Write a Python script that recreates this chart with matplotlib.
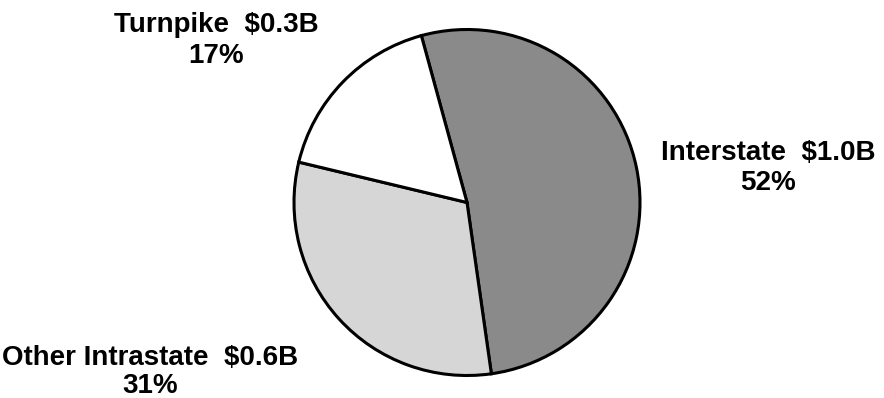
import matplotlib
matplotlib.use("Agg")
import matplotlib.pyplot as plt

# data
categories = ["Interstate", "Other Intrastate", "Turnpike"]
amounts = ["$1.0B", "$0.6B", "$0.3B"]
shares = [52, 31, 17]
colors = ["#8a8a8a", "#d6d6d6", "#ffffff"]

W, H = 884, 398
fig = plt.figure(figsize=(W / 100, H / 100), dpi=100)
ax = fig.add_axes([0, 0, 1, 1])

ax.pie(shares, colors=colors, startangle=105.3, counterclock=False,
       center=(467, H - 202.5), radius=173, frame=True,
       wedgeprops=dict(edgecolor="black", linewidth=2.2))
ax.set_xlim(0, W)
ax.set_ylim(0, H)
ax.set_aspect("equal")
ax.axis("off")

# label centre x and the two baselines (pixel coords, top-left origin)
label_pos = [(768, 160, 190), (150, 365, 393), (216, 32, 63)]
font = dict(fontsize=20, fontweight="bold", family="Liberation Sans",
            ha="center", va="baseline")
for name, amt, pct, (x, y1, y2) in zip(categories, amounts, shares, label_pos):
    ax.text(x, H - y1, f"{name}  {amt}", **font)
    ax.text(x, H - y2, f"{pct}%", **font)

fig.savefig("out.png", dpi=100)
